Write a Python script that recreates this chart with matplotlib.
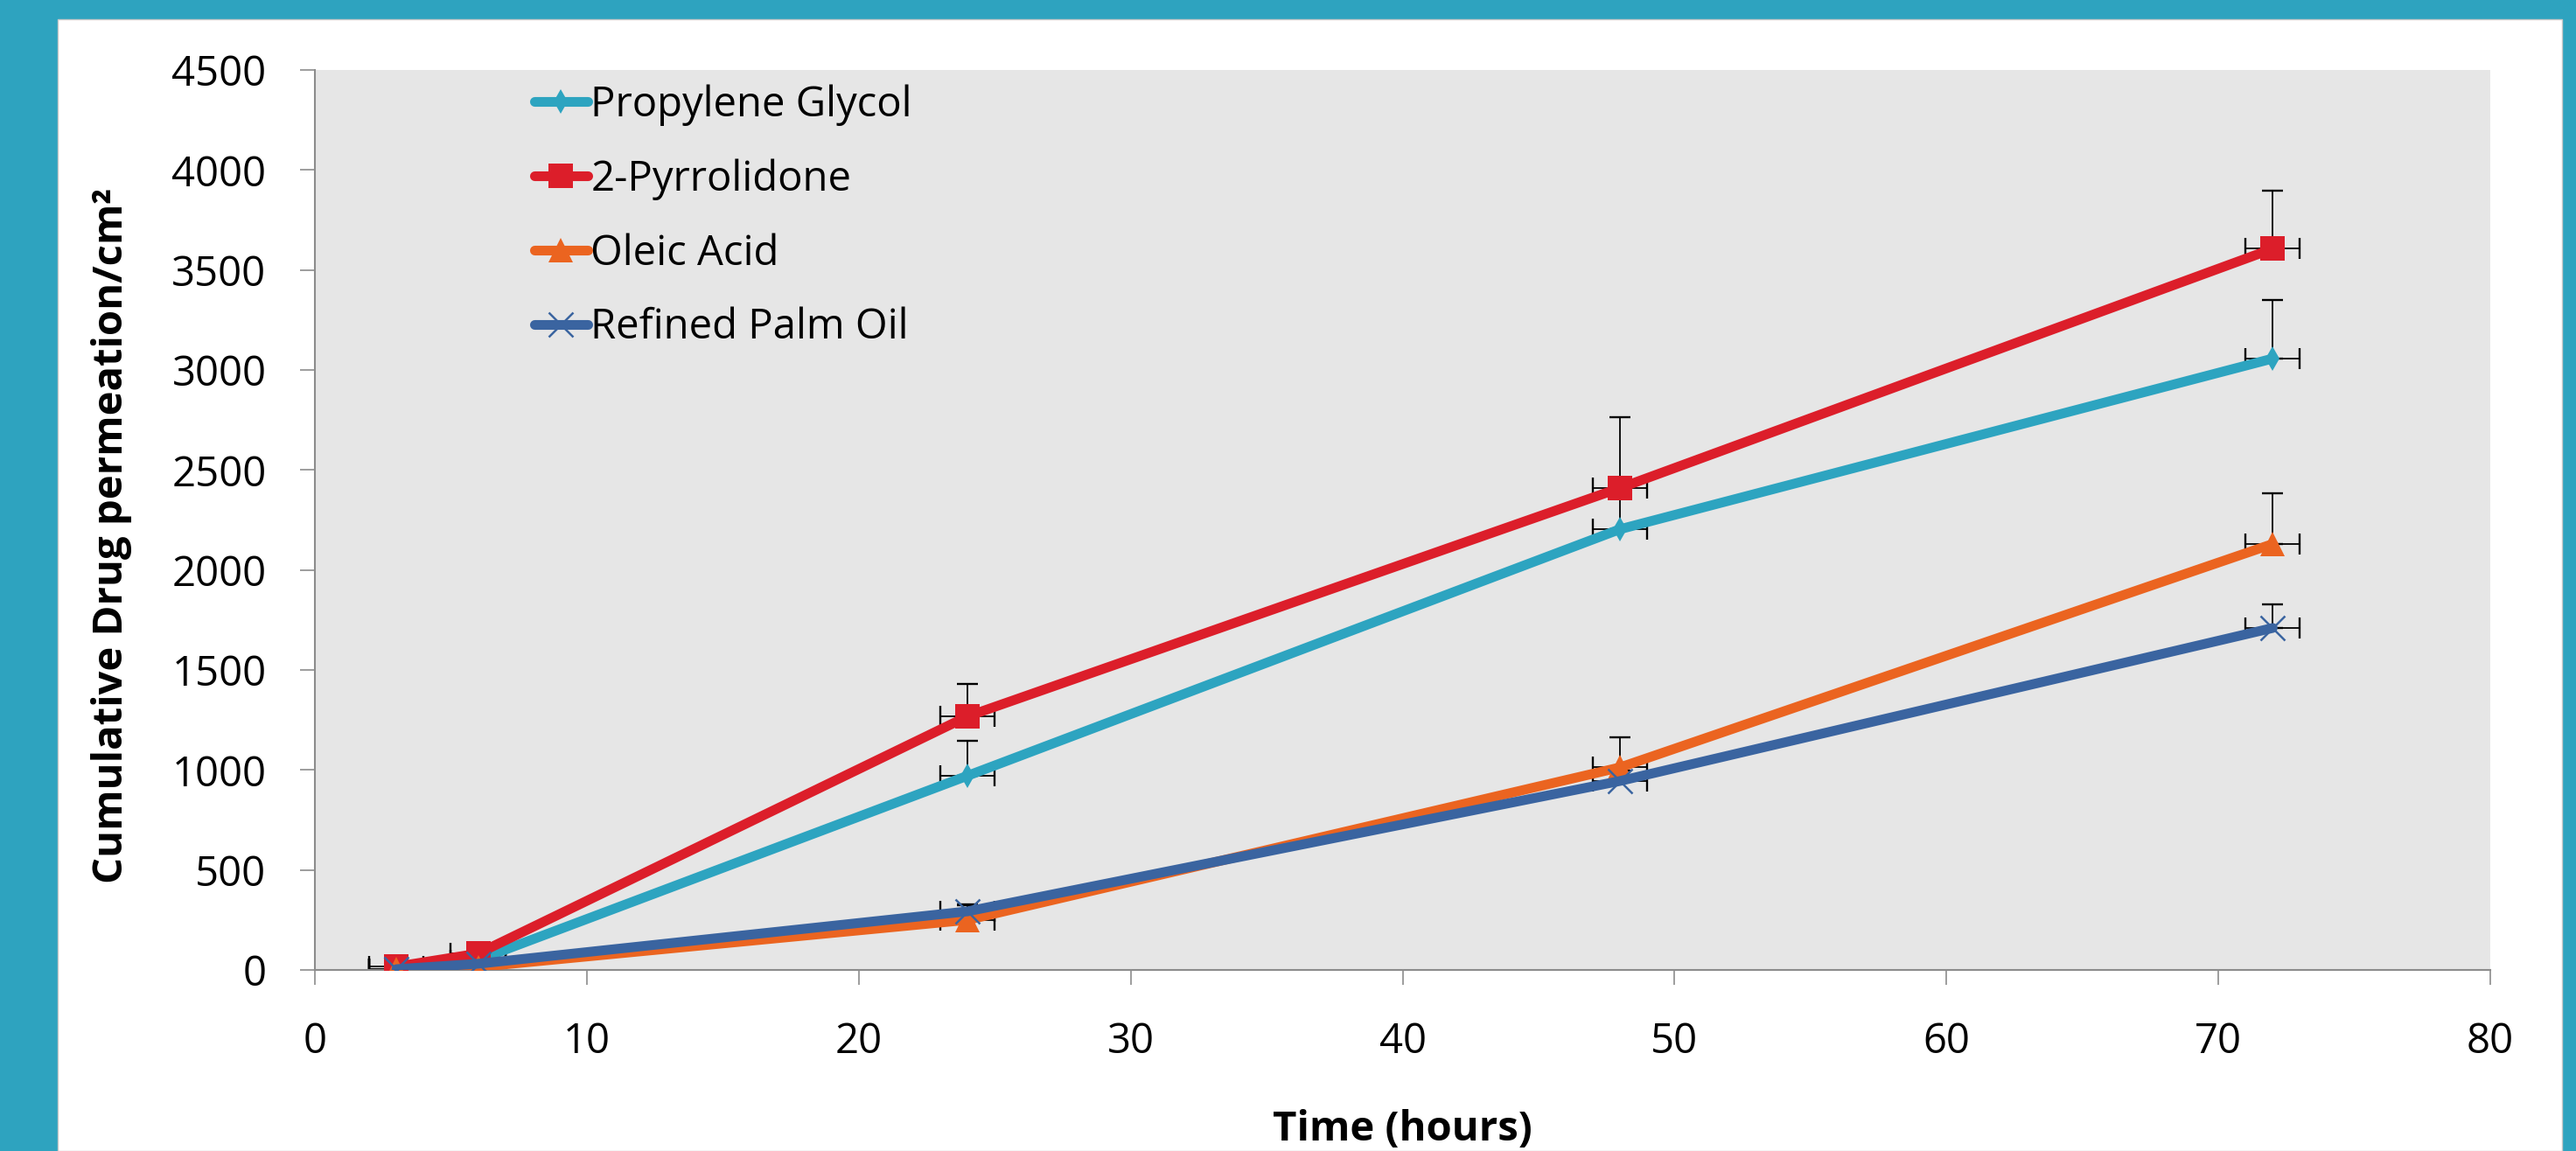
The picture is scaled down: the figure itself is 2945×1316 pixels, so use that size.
import matplotlib
matplotlib.use('Agg')
import matplotlib.pyplot as plt
from matplotlib.patches import Rectangle
import numpy as np

# ---------------- data ----------------
time_h = [3, 6, 24, 48, 72]
time_err = [1, 1, 1, 1, 1]

series_names = ['Propylene Glycol', '2-Pyrrolidone', 'Oleic Acid', 'Refined Palm Oil']
propylene_glycol = [5, 50, 971, 2204, 3057]
propylene_glycol_err = [5, 10, 175, 200, 293]
pyrrolidone = [17, 82, 1268, 2410, 3606]
pyrrolidone_err = [8, 15, 162, 354, 290]
oleic_acid = [4, 15, 250, 1013, 2130]
oleic_acid_err = [3, 8, 80, 150, 253]
palm_oil = [4, 31, 293, 945, 1710]
palm_oil_err = [3, 8, 30, 50, 118]

x_ticks = [0, 10, 20, 30, 40, 50, 60, 70, 80]
y_ticks = [0, 500, 1000, 1500, 2000, 2500, 3000, 3500, 4000, 4500]

# ---------------- style ----------------
plt.rcParams['font.family'] = ['Open Sans', 'DejaVu Sans']

W, H = 2945, 1316
fig = plt.figure(figsize=(W / 100, H / 100), dpi=100)
fig.patch.set_facecolor('#2ea3bf')
bg = Rectangle((66 / W, 0), (2929 - 66) / W, (H - 22) / H, transform=fig.transFigure,
               facecolor='white', edgecolor='#c8c8c8', lw=1, zorder=-5)
fig.add_artist(bg)

ax = fig.add_axes([360 / W, 1 - 1109 / H, (2847 - 360) / W, (1109 - 80) / H])
ax.set_facecolor('#e6e6e6')

colors = ['#2da4c0', '#dc1e2a', '#eb6420', '#3a64a0']
values = [propylene_glycol, pyrrolidone, oleic_acid, palm_oil]
errors = [propylene_glycol_err, pyrrolidone_err, oleic_acid_err, palm_oil_err]
markers = ['d', 's', '^', 'x']
msizes = [14, 19.5, 19.5, 19.5]

for vals, err in zip(values, errors):
    ax.errorbar(time_h, vals, yerr=[np.zeros(len(err)), err], xerr=time_err, fmt='none',
                ecolor='black', elinewidth=1.3, capsize=8.5, capthick=1.7, zorder=2)

handles = []
for i, (vals, name) in enumerate(zip(values, series_names)):
    if markers[i] == 'x':
        ln, = ax.plot(time_h, vals, color=colors[i], lw=8, marker='x', ms=msizes[i],
                      mew=1.8, mec=colors[i], solid_capstyle='round', zorder=3 + i * 0.1,
                      label=name)
    else:
        ln, = ax.plot(time_h, vals, color=colors[i], lw=8, marker=markers[i], ms=msizes[i],
                      mew=0, mfc=colors[i], solid_capstyle='round', zorder=3 + i * 0.1,
                      label=name)
    handles.append(ln)

ax.set_xlim(0, 80)
ax.set_ylim(0, 4500)
ax.set_xticks(x_ticks)
ax.set_yticks(y_ticks)

for s in ['top', 'right']:
    ax.spines[s].set_visible(False)
for s in ['left', 'bottom']:
    ax.spines[s].set_color('#8c8c8c')
    ax.spines[s].set_linewidth(1.5)

ax.tick_params(axis='both', direction='out', length=12, width=1.2, color='#8c8c8c',
               labelsize=34, labelcolor='black')
ax.tick_params(axis='y', pad=28)
ax.tick_params(axis='x', pad=30)

fig.text(128 / W, 1 - 612 / H, 'Cumulative Drug permeation/cm²', rotation=90,
         ha='center', va='center', fontsize=34, fontweight='bold')
fig.text(1603 / W, 1 - 1292 / H, 'Time (hours)', ha='center', va='center',
         fontsize=34, fontweight='bold')

ax.legend(handles, series_names, loc='upper left', bbox_to_anchor=(0.1009, 0.984),
          frameon=False, borderpad=0, borderaxespad=0, handlelength=1.29,
          handletextpad=0.07, labelspacing=0.79, fontsize=34, numpoints=1)

fig.savefig('out.png', dpi=100, facecolor=fig.get_facecolor())
